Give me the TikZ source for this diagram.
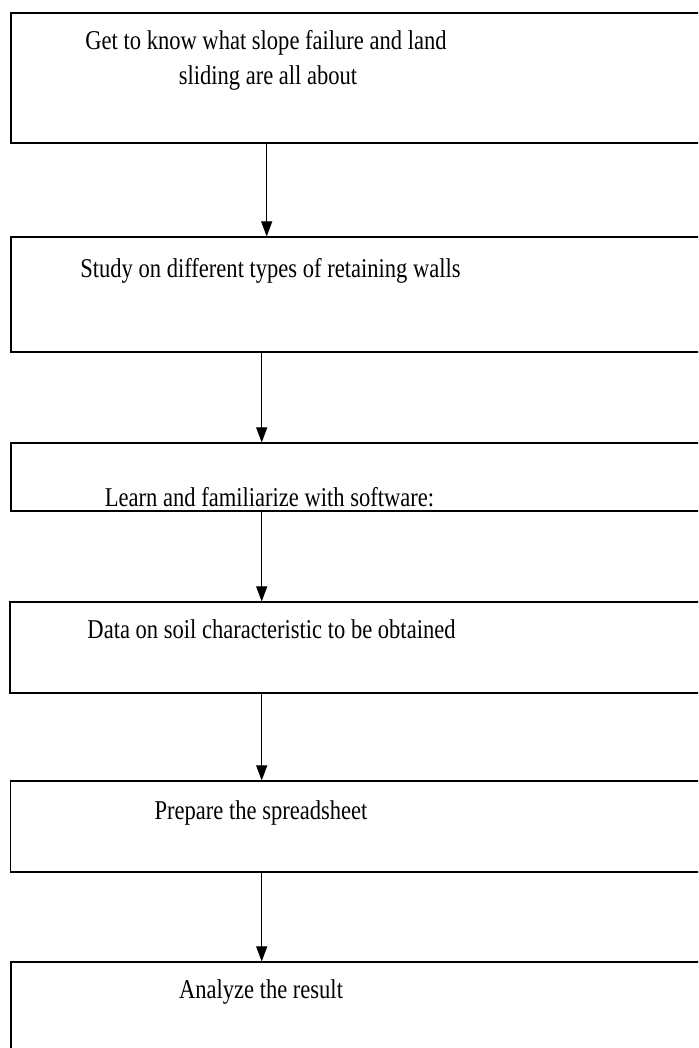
\documentclass[tikz,border=0pt]{standalone}
\usepackage{fontspec}
\usepackage{graphicx}
\setmainfont{Liberation Serif}
\usetikzlibrary{arrows.meta}
\newcommand{\tallt}[1]{\scalebox{0.98}[1.18]{#1}}
\begin{document}
\begin{tikzpicture}[x=1pt,y=-1pt,
  box/.style={draw=black, line width=1.2pt, rectangle, minimum width=709pt, inner sep=0pt},
  lbl/.style={anchor=base, inner sep=0pt, font=\fontsize{23}{28}\selectfont},
  arr/.style={draw=black, line width=1pt, -{Triangle[length=15pt,width=11pt]}}]
\useasboundingbox (0,0) rectangle (698,1048);
\clip (0,0) rectangle (698,1048);
\fill[white] (0,0) rectangle (698,1048);
% boxes
\node[box, minimum height=130pt] (b1) at (365.5,78) {};
\node[box, minimum height=115pt] (b2) at (365.5,294.5) {};
\node[box, minimum height=68pt]  (b3) at (365.5,477) {};
\node[box, minimum height=91pt]  (b4) at (364.5,647.5) {};
\node[box, minimum height=91pt]  (b5) at (365,826.5) {};
\node[box, minimum height=98pt]  (b6) at (365.5,1011) {};
% texts
\node[lbl] (t1a) at (266,49.5) {\tallt{Get to know what slope failure and land}};
\node[lbl] (t1b) at (268,85) {\tallt{sliding are all about}};
\node[lbl] (t2) at (270.5,277) {\tallt{Study on different types of retaining walls}};
\node[lbl] (t3) at (269.5,506) {\tallt{Learn and familiarize with software:}};
\node[lbl] (t4) at (271.5,638.5) {\tallt{Data on soil characteristic to be obtained}};
\node[lbl] (t5) at (261,819.5) {\tallt{Prepare the spreadsheet}};
\node[lbl] (t6) at (261,998.5) {\tallt{Analyze the result}};
% arrow columns
\coordinate (a1) at (266.7,0);
\coordinate (a2) at (261.7,0);
\draw[arr] (b1.south -| a1) -- (b2.north -| a1);
\draw[arr] (b2.south -| a2) -- (b3.north -| a2);
\draw[arr] (b3.south -| a2) -- (b4.north -| a2);
\draw[arr] (b4.south -| a2) -- (b5.north -| a2);
\draw[arr] (b5.south -| a2) -- (b6.north -| a2);
\end{tikzpicture}
\end{document}
